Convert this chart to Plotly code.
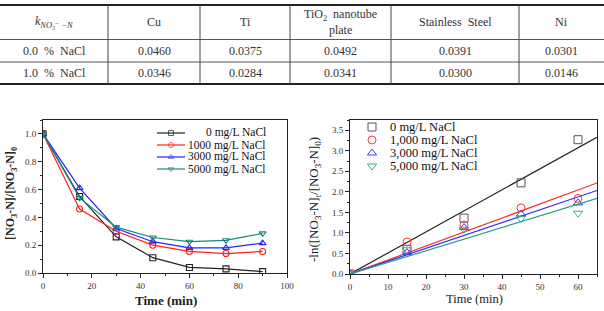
import plotly.graph_objects as go

# ---------------- data ----------------
table_cols = ["Cu", "Ti", "TiO<sub>2</sub>  nanotube<br>plate", "Stainless  Steel", "Ni"]
table_rows = ["0.0  %  NaCl", "1.0  %  NaCl"]
k_00 = ["0.0460", "0.0375", "0.0492", "0.0391", "0.0301"]
k_10 = ["0.0346", "0.0284", "0.0341", "0.0300", "0.0146"]

time_left = [0, 15, 30, 45, 60, 75, 90]
c_0 = [1.0, 0.55, 0.26, 0.11, 0.04, 0.03, 0.01]
c_1000 = [1.0, 0.46, 0.30, 0.20, 0.155, 0.14, 0.155]
c_3000 = [1.0, 0.61, 0.32, 0.225, 0.18, 0.18, 0.215]
c_5000 = [1.0, 0.54, 0.33, 0.255, 0.225, 0.235, 0.285]
left_names = ["0 mg/L NaCl", "1000 mg/L NaCl", "3000 mg/L NaCl", "5000 mg/L NaCl"]

time_right = [0, 15, 30, 45, 60]
ln_0 = [0, 0.60, 1.36, 2.22, 3.27]
ln_1000 = [0, 0.78, 1.19, 1.61, 1.84]
ln_3000 = [0, 0.52, 1.13, 1.46, 1.73]
ln_5000 = [0, 0.59, 1.09, 1.35, 1.48]
right_names = ["0 mg/L NaCl", "1,000 mg/L NaCl", "3,000 mg/L NaCl", "5,000 mg/L NaCl"]
fit_x = [0, 65]

# ---------------- styles ----------------
W, H = 604, 311
def px(x):
    return x / W
def py(y):
    return 1 - y / H

SERIF = "'Liberation Serif', 'Times New Roman', 'DejaVu Serif', serif"
left_colors = ["#222222", "#ff2020", "#2424ff", "#178a7c"]
right_line_colors = ["#222222", "#ff2a2a", "#2a2aff", "#2a9a8a"]
right_marker_colors = ["#555555", "#ff3a3a", "#3a3aff", "#34a898"]
symbols = ["square-open", "circle-open", "triangle-up-open", "triangle-down-open"]

# legend layout (pixel positions)
left_leg_rows = [133, 145, 157, 169]
left_leg_line = [157, 171, 185]
left_leg_text_right = 268
right_leg_rows = [127, 140, 153, 166]
right_leg_marker = 372
right_leg_text_left = 388

fig = go.Figure()

# ---------------- left chart ----------------
for ys, name, col, sym in zip([c_0, c_1000, c_3000, c_5000], left_names, left_colors, symbols):
    fig.add_trace(go.Scatter(
        x=time_left, y=ys, name=name, mode="lines+markers",
        line=dict(color=col, width=1.2),
        marker=dict(symbol=sym, size=6, color=col, line=dict(width=1.1, color=col)),
        xaxis="x", yaxis="y", showlegend=False))

# ---------------- right chart ----------------
for ys, name, lc, mc, sym in zip([ln_0, ln_1000, ln_3000, ln_5000], right_names,
                                  right_line_colors, right_marker_colors, symbols):
    k = sum(a * b for a, b in zip(time_right, ys)) / sum(a * a for a in time_right)
    fig.add_trace(go.Scatter(
        x=fit_x, y=[k * v for v in fit_x], mode="lines", showlegend=False,
        line=dict(color=lc, width=1.2), xaxis="x2", yaxis="y2", hoverinfo="skip"))
    fig.add_trace(go.Scatter(
        x=time_right, y=ys, name=name, mode="markers", showlegend=False,
        marker=dict(symbol=sym, size=8, color=mc, line=dict(width=1, color=mc)),
        xaxis="x2", yaxis="y2"))

# ---------------- manual legends (pixel overlay axis) ----------------
for ry, col, sym in zip(left_leg_rows, left_colors, symbols):
    fig.add_trace(go.Scatter(
        x=left_leg_line, y=[ry] * 3, mode="lines+markers", showlegend=False, hoverinfo="skip",
        line=dict(color=col, width=1.2),
        marker=dict(symbol=sym, size=[0, 5, 0], color=col, line=dict(width=1, color=col)),
        xaxis="x3", yaxis="y3"))
for ry, mc, sym in zip(right_leg_rows, right_marker_colors, symbols):
    fig.add_trace(go.Scatter(
        x=[right_leg_marker], y=[ry], mode="markers", showlegend=False, hoverinfo="skip",
        marker=dict(symbol=sym, size=8, color=mc, line=dict(width=1, color=mc)),
        xaxis="x3", yaxis="y3"))

axis_common = dict(
    showgrid=False, zeroline=False, showline=True, linecolor="#222", linewidth=1,
    mirror=True, ticks="outside", ticklen=4, tickwidth=1, tickcolor="#222",
    tickfont=dict(family=SERIF, size=9, color="#333"), automargin=False,
)

fig.update_layout(
    width=W, height=H,
    margin=dict(l=0, r=0, t=0, b=0),
    paper_bgcolor="white", plot_bgcolor="rgba(0,0,0,0)",
    font=dict(family=SERIF),
    showlegend=False,
    xaxis=dict(domain=[px(43), px(287)], range=[0, 100], dtick=20, anchor="y",
               minor=dict(ticks="outside", ticklen=2, dtick=10, tickcolor="#222"), **axis_common),
    yaxis=dict(domain=[py(273), py(120)], range=[0, 1.1], dtick=0.2, tickformat=".1f", anchor="x",
               minor=dict(ticks="outside", ticklen=2, dtick=0.1, tickcolor="#222"), **axis_common),
    xaxis2=dict(domain=[px(350), px(597)], range=[0, 65], dtick=10, anchor="y2",
                minor=dict(ticks="outside", ticklen=2, dtick=5, tickcolor="#222"), **axis_common),
    yaxis2=dict(domain=[py(274), py(120)], range=[0, 3.75], dtick=0.5, tickformat=".1f", anchor="x2",
                minor=dict(ticks="outside", ticklen=2, dtick=0.25, tickcolor="#222"), **axis_common),
    xaxis3=dict(domain=[0, 1], range=[0, W], visible=False, anchor="y3", fixedrange=True),
    yaxis3=dict(domain=[0, 1], range=[H, 0], visible=False, anchor="x3", fixedrange=True),
)

def ann(text, x, y, size, color="#222", angle=0, xanchor="center"):
    return dict(text=text, x=px(x), y=py(y), xref="paper", yref="paper", showarrow=False,
                xanchor=xanchor, yanchor="middle", textangle=angle,
                font=dict(family=SERIF, size=size, color=color))

annotations = []
# axis titles
annotations.append(ann("<b>Time (min)</b>", 166, 300, 13))
annotations.append(ann("<b>[NO<sub>3</sub>-N]/[NO<sub>3</sub>-N]<sub>0</sub></b>", 11, 194, 12, angle=-90))
annotations.append(ann("Time (min)", 474, 299, 12.5))
annotations.append(ann("-ln([NO<sub>3</sub>-N]<sub>t</sub>/[NO<sub>3</sub>-N]<sub>0</sub>)", 314, 200, 13, angle=-90))

# legend texts
for ry, name in zip(left_leg_rows, left_names):
    annotations.append(ann(name, left_leg_text_right, ry, 11.5, color="#111", xanchor="right"))
for ry, name in zip(right_leg_rows, right_names):
    annotations.append(ann(name, right_leg_text_left, ry, 12.5, color="#111", xanchor="left"))

# ---------------- table ----------------
col_edges = [0, 108, 200, 290, 391, 519, 604]
row_edges = [5, 39.5, 62, 84]
shapes = []
shapes.append(dict(type="line", xref="paper", yref="paper", x0=0, x1=1, y0=py(row_edges[0]), y1=py(row_edges[0]),
                   line=dict(color="#222", width=2)))
shapes.append(dict(type="line", xref="paper", yref="paper", x0=0, x1=1, y0=py(row_edges[-1]), y1=py(row_edges[-1]),
                   line=dict(color="#222", width=2)))
for ry in row_edges[1:-1]:
    shapes.append(dict(type="line", xref="paper", yref="paper", x0=0, x1=1, y0=py(ry), y1=py(ry),
                       line=dict(color="#555", width=1)))
for cx in col_edges[1:-1]:
    shapes.append(dict(type="line", xref="paper", yref="paper", x0=px(cx), x1=px(cx),
                       y0=py(row_edges[0]), y1=py(row_edges[-1]), line=dict(color="#444", width=1)))

centers_x = [(a + b) / 2 for a, b in zip(col_edges[:-1], col_edges[1:])]
centers_y = [(a + b) / 2 for a, b in zip(row_edges[:-1], row_edges[1:])]
header = ["<i>k</i><sub><i>NO\u2083\u207b \u2212N</i></sub>"] + table_cols
for cx, txt in zip(centers_x, header):
    annotations.append(ann(txt, cx, centers_y[0], 12, color="#333"))
for ri, (lab, vals) in enumerate(zip(table_rows, [k_00, k_10])):
    for cx, txt in zip(centers_x, [lab] + vals):
        annotations.append(ann(txt, cx, centers_y[ri + 1], 12, color="#333"))

fig.update_layout(annotations=annotations, shapes=shapes)
fig.write_html("out.html")
